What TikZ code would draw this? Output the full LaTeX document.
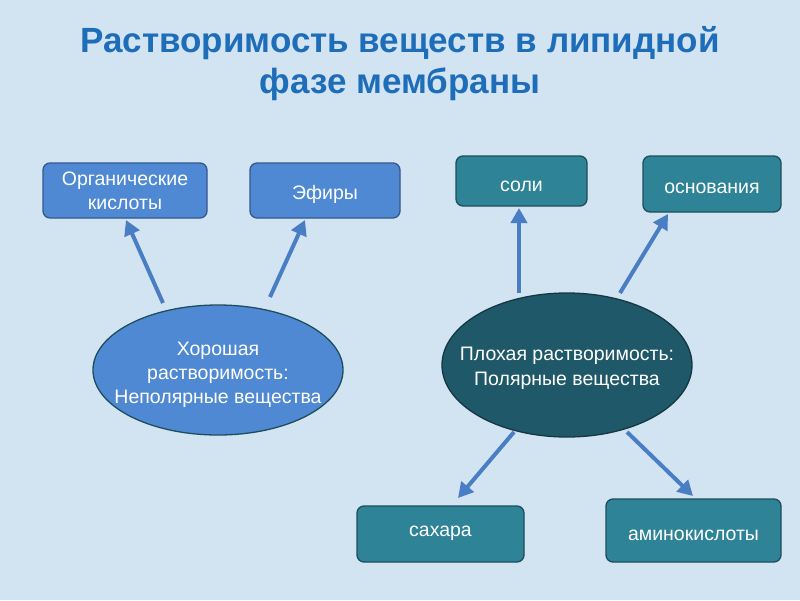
\documentclass[tikz,border=0pt]{standalone}
\usepackage{fontspec}
\setmainfont{Liberation Sans}
\usetikzlibrary{arrows.meta,shapes.geometric}
\definecolor{bg}{HTML}{D2E3F2}
\definecolor{titleblue}{HTML}{1E6DB8}
\definecolor{bluefill}{HTML}{5089D3}
\definecolor{blueborder}{HTML}{33598F}
\definecolor{tealfill}{HTML}{2F8397}
\definecolor{tealborder}{HTML}{1E4E5E}
\definecolor{darkteal}{HTML}{1F5868}
\definecolor{arrowblue}{HTML}{4A7EC4}
\newcommand{\zerow}[1]{\makebox[0pt][c]{\begin{tabular}{@{}c@{}}#1\end{tabular}}}
\newcommand{\lowerby}[2]{\raisebox{-#1}[\height][\depth]{#2}}
\tikzset{
  x=1pt,y=-1pt,
  bluebox/.style={draw=blueborder,fill=bluefill,line width=1.3pt,rounded corners=7pt,text=white,font=\fontsize{19.5}{24}\selectfont,align=center,inner sep=0pt},
  tealbox/.style={draw=tealborder,fill=tealfill,line width=1.3pt,rounded corners=7pt,text=white,font=\fontsize{19.5}{24}\selectfont,align=center,inner sep=0pt},
  blueell/.style={ellipse,draw=tealborder,fill=bluefill,line width=1.3pt,text=white,font=\fontsize{19.5}{24}\selectfont,inner sep=0pt},
  tealell/.style={ellipse,draw=tealborder!70!black,fill=darkteal,line width=1.3pt,text=white,font=\fontsize{19.5}{25}\selectfont,inner sep=0pt},
  conn/.style={draw=arrowblue,line width=4pt,-{Triangle[length=15pt,width=16pt]}},
  ttl/.style={text=titleblue,font=\fontsize{35}{41}\selectfont\bfseries,align=center}
}
\begin{document}
\begin{tikzpicture}
\fill[bg] (0,0) rectangle (800,600);
\useasboundingbox (0,0) rectangle (800,600);
\node[ttl] (title) at (400,64) {Растворимость веществ в липидной\\фазе мембраны};
% boxes
\node[bluebox,minimum width=164pt,minimum height=55pt] (org) at (125,190.5) {Органические\\кислоты};
\node[bluebox,minimum width=150pt,minimum height=55pt] (eph) at (325,190.5) {\lowerby{4pt}{Эфиры}};
\node[tealbox,minimum width=131pt,minimum height=50pt] (sol) at (521.5,181) {\lowerby{5pt}{соли}};
\node[tealbox,minimum width=138pt,minimum height=56pt] (osn) at (712,184) {\lowerby{4pt}{основания}};
\node[tealbox,minimum width=167pt,minimum height=56pt] (sah) at (440.5,534) {\lowerby{-1pt}{сахара}};
\node[tealbox,minimum width=175pt,minimum height=63pt] (ami) at (693.5,530.5) {\lowerby{5pt}{аминокислоты}};
% ellipses
\node[blueell,minimum width=250pt,minimum height=130pt] (good) at (218,370) {\lowerby{5pt}{\zerow{Хорошая\\растворимость:\\Неполярные вещества}}};
\node[tealell,minimum width=250pt,minimum height=144pt] (bad) at (567,365) {\lowerby{3pt}{\zerow{Плохая растворимость:\\Полярные вещества}}};
% connectors
\coordinate (g1) at (163,303);
\coordinate (g2) at (270,297);
\coordinate (b1) at (519,293);
\coordinate (b2) at (620,293);
\coordinate (b3) at (514,432);
\coordinate (b4) at (627,432);
\coordinate (t1) at (126,220);
\coordinate (t2) at (305,220);
\coordinate (t3) at (519,208);
\coordinate (t4) at (668,214);
\coordinate (t5) at (458,498);
\coordinate (t6) at (693,496);
\draw[conn] (g1) -- (t1);
\draw[conn] (g2) -- (t2);
\draw[conn] (b1) -- (t3);
\draw[conn] (b2) -- (t4);
\draw[conn] (b3) -- (t5);
\draw[conn] (b4) -- (t6);
\end{tikzpicture}
\end{document}
